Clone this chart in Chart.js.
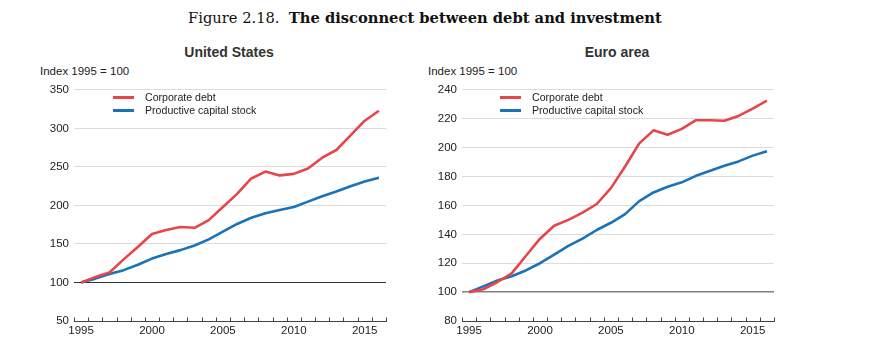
<!DOCTYPE html>
<html>
<head>
<meta charset="utf-8">
<script src="https://cdn.jsdelivr.net/npm/chart.js@4/dist/chart.umd.min.js"></script>
<style>
  html, body { margin:0; padding:0; background:#fff; }
  body { width:884px; height:349px; position:relative; overflow:hidden; font-family:"Liberation Sans", Arial, sans-serif; color:#222; }
  .abs { position:absolute; white-space:nowrap; }
  #fig { left:188px; top:9px; font-family:"DejaVu Serif", serif; font-size:14.7px; color:#111; }
  #fig b { font-weight:bold; }
  .ptitle { font-weight:bold; font-size:14px; color:#333; top:44px; transform:translateX(-50%); }
  .unit { font-size:11.5px; color:#222; top:65px; }
  .leg { font-size:10.6px; color:#222; }
  .leg .sw { position:absolute; height:3px; }
  .cw { position:absolute; top:78px; width:400px; height:271px; }
</style>
</head>
<body>
<div id="fig" class="abs">Figure 2.18.&nbsp; <b>The disconnect between debt and investment</b></div>
<div class="abs ptitle" style="left:229px;">United States</div>
<div class="abs ptitle" style="left:617px;">Euro area</div>
<div class="abs unit" style="left:40px;">Index 1995 = 100</div>
<div class="abs unit" style="left:428px;">Index 1995 = 100</div>

<div class="cw" style="left:0px;"><canvas id="us"></canvas></div>
<div class="cw" style="left:388px;"><canvas id="ea"></canvas></div>

<div class="abs leg" style="left:113px; top:91px;">
  <div class="sw" style="left:0; top:5px; width:21px; background:#e8454b;"></div>
  <div style="position:absolute; left:32px; top:0;">Corporate debt</div>
  <div class="sw" style="left:0; top:18px; width:21px; background:#1a73b9;"></div>
  <div style="position:absolute; left:32px; top:13px;">Productive capital stock</div>
</div>
<div class="abs leg" style="left:500px; top:91px;">
  <div class="sw" style="left:0; top:5px; width:21px; background:#e8454b;"></div>
  <div style="position:absolute; left:32px; top:0;">Corporate debt</div>
  <div class="sw" style="left:0; top:18px; width:21px; background:#1a73b9;"></div>
  <div style="position:absolute; left:32px; top:13px;">Productive capital stock</div>
</div>

<script>
const years = ['1995','1996','1997','1998','1999','2000','2001','2002','2003','2004','2005','2006','2007','2008','2009','2010','2011','2012','2013','2014','2015','2016'];

const usDebt    = [100,107,113,130,146,163,168,172,171,181,198,215,235,244,239,241,248,262,272,291,310,323];
const usCapital = [100,105,111,116,123,131,137,142,148,156,166,176,184,190,194,198,205,212,218,225,231,236];

const eaDebt    = [100,102,107,113,125,137,146,150,155,161,172,187,203,212,209,213,219,219,218.6,222,227,232.5];
const eaCapital = [100,104,108,111,115,120,126,132,137,143,148,154,163,169,173,176,180.5,184,187.5,190.5,194.5,197.5];

const usTicks = { min:50, max:350, step:50 };
const eaTicks = { min:80, max:240, step:20 };

const RED = '#e8454b', BLUE = '#1a73b9';

const innerTicks = {
  id:'innerTicks',
  afterDraw(chart){
    const s = chart.scales.x, ctx = chart.ctx;
    const n = s.ticks.length;
    const w = (s.getPixelForTick(n-1) - s.getPixelForTick(0)) / (n-1);
    ctx.save();
    ctx.strokeStyle = '#444'; ctx.lineWidth = 1;
    ctx.beginPath();
    for (let i = 0; i <= n; i++) {
      const x = Math.round(s.getPixelForTick(0) - w/2 + i*w) + 0.5;
      ctx.moveTo(x, s.top); ctx.lineTo(x, s.top - 3.5);
    }
    ctx.stroke();
    ctx.restore();
  }
};

function make(id, debt, capital, t, baseColor, baseWidth){
  return new Chart(document.getElementById(id), {
    type:'line',
    data:{ labels: years, datasets:[
      { label:'Corporate debt', data: debt, borderColor: RED, borderWidth:2.6, pointRadius:0, tension:0, borderJoinStyle:'round' },
      { label:'Productive capital stock', data: capital, borderColor: BLUE, borderWidth:2.6, pointRadius:0, tension:0, borderJoinStyle:'round' }
    ]},
    options:{
      responsive:true, maintainAspectRatio:false, animation:false,
      layout:{ padding:{ top:10, right:14, bottom:0, left:0 } },
      plugins:{ legend:{ display:false }, tooltip:{ enabled:false } },
      scales:{
        x:{
          type:'category', offset:true,
          grid:{ display:false, drawTicks:false },
          border:{ display:true, color:'#444', width:1 },
          ticks:{ autoSkip:false, maxRotation:0, padding:3, color:'#222',
                  font:{ family:'"Liberation Sans", Arial, sans-serif', size:11.5 },
                  callback(v){ const l = this.getLabelForValue(v); return (+l % 5 === 0) ? l : ''; } },
          afterFit(s){ s.height = 28; }
        },
        y:{
          min:t.min, max:t.max,
          grid:{ drawTicks:false,
                 color: c => c.tick && c.tick.value === 100 ? baseColor : '#dcdcdc',
                 lineWidth: c => c.tick && c.tick.value === 100 ? baseWidth : 1 },
          border:{ display:false },
          ticks:{ stepSize:t.step, padding:5, color:'#222',
                  font:{ family:'"Liberation Sans", Arial, sans-serif', size:11.5 } },
          afterFit(s){ s.width = 74; }
        }
      }
    },
    plugins:[innerTicks]
  });
}

make('us', usDebt, usCapital, usTicks, '#333', 1);
make('ea', eaDebt, eaCapital, eaTicks, '#808080', 1.5);
</script>
</body>
</html>
